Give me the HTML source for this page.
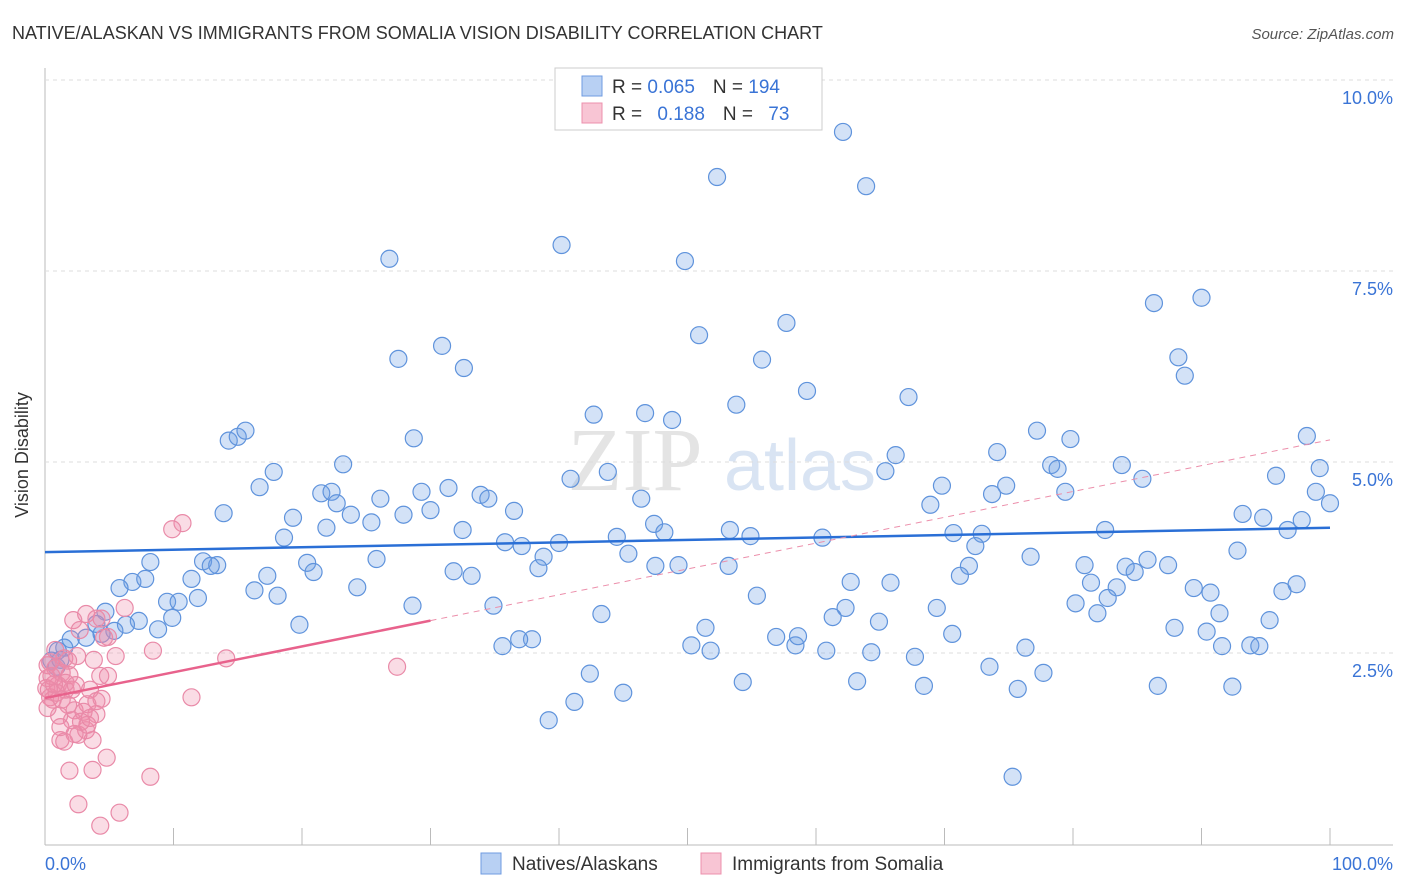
<!DOCTYPE html>
<html><head><meta charset="utf-8"><style>
body{margin:0;background:#fff;font-family:"Liberation Sans",sans-serif;}
svg{display:block}
</style></head><body>
<svg id="chart" width="1406" height="892">
<text x="12" y="39" font-size="18" fill="#333">NATIVE/ALASKAN VS IMMIGRANTS FROM SOMALIA VISION DISABILITY CORRELATION CHART</text>
<text x="1394" y="39" font-size="15" fill="#555" font-style="italic" text-anchor="end">Source: ZipAtlas.com</text>
<text x="28" y="455" font-size="18" fill="#333" text-anchor="middle" transform="rotate(-90 28 455)">Vision Disability</text>
<text x="635" y="490" font-size="90" fill="#e4e4e4" font-family="Liberation Serif,serif" text-anchor="middle">ZIP</text>
<text x="800" y="490" font-size="72" fill="#d9e4f3" text-anchor="middle">atlas</text>
<g id="grid"></g>
<g id="pts"></g>
<g id="trend"></g>
<rect x="555" y="68" width="267" height="62" fill="#fff" stroke="#ccc"/>
<rect x="582" y="76" width="20" height="20" fill="#b8d0f3" stroke="#6f9be0"/>
<rect x="582" y="103" width="20" height="20" fill="#f8c5d4" stroke="#ec90ad"/>
<text x="612" y="93" font-size="19" fill="#333">R = <tspan fill="#3a74d6">0.065</tspan><tspan dx="18">N = </tspan><tspan fill="#3a74d6">194</tspan></text>
<text x="612" y="120" font-size="19" fill="#333">R = <tspan fill="#3a74d6" dx="10">0.188</tspan><tspan dx="18">N = </tspan><tspan fill="#3a74d6" dx="10">73</tspan></text>
<rect x="481" y="853" width="20" height="21" fill="#b8d0f3" stroke="#6f9be0"/>
<text x="512" y="870" font-size="19" fill="#333">Natives/Alaskans</text>
<rect x="701" y="853" width="20" height="21" fill="#f8c5d4" stroke="#ec90ad"/>
<text x="732" y="870" font-size="19" fill="#333">Immigrants from Somalia</text>
</svg>
<script>
const yTicks=[2.5,5.0,7.5,10.0];
const yTickLabels=["2.5%","5.0%","7.5%","10.0%"];
const xTicks=[0,10,20,30,40,50,60,70,80,90,100];
const xEndLabels=["0.0%","100.0%"];
const blueX=[62.1,52.3,63.9,40.2,26.8,49.8,90.0,86.3,57.7,50.9,27.5,55.8,30.9,32.6,88.2,88.7,59.3,67.2,53.8,42.7,46.7,48.8,14.3,15.0,15.6,28.7,77.2,79.8,98.2,66.2,74.1,23.2,43.8,17.8,78.3,78.8,83.8,85.4,95.8,99.2,65.4,40.9,16.7,69.8,74.8,73.7,79.4,98.9,100.0,21.5,22.3,31.4,29.3,33.9,34.5,26.1,13.9,19.3,22.7,23.8,25.4,27.9,30.0,46.4,36.5,68.9,93.2,94.8,97.8,96.7,18.6,21.9,32.5,47.4,48.2,53.3,54.9,60.5,70.7,72.9,82.5,44.5,35.8,37.1,40.0,38.8,38.4,45.4,92.8,8.2,12.3,13.4,20.4,25.8,31.8,33.2,47.5,49.3,53.2,72.4,71.9,76.7,80.9,84.1,84.8,85.8,87.4,6.8,7.8,11.4,12.9,17.3,20.9,24.3,5.8,16.3,18.1,9.5,10.4,11.9,62.7,65.8,81.4,83.4,89.4,90.7,96.3,97.4,71.2,4.7,7.3,9.9,8.8,6.3,28.6,34.9,43.3,55.4,62.3,61.3,69.4,80.2,82.7,81.9,91.4,95.3,64.9,51.4,19.8,5.4,87.9,90.4,4.4,4.0,3.2,2.0,1.5,1.0,0.5,0.9,1.2,35.6,37.9,36.9,50.3,51.8,56.9,58.4,58.6,60.8,64.3,70.6,76.3,91.6,93.8,94.5,67.7,42.4,54.3,63.2,68.4,73.5,75.7,77.7,86.6,92.4,41.2,45.0,39.2,75.3];
const blueY=[9.32,8.73,8.61,7.84,7.66,7.63,7.15,7.08,6.82,6.66,6.35,6.34,6.52,6.23,6.37,6.13,5.93,5.85,5.75,5.62,5.64,5.55,5.28,5.33,5.41,5.31,5.41,5.30,5.34,5.09,5.13,4.97,4.87,4.87,4.96,4.91,4.96,4.78,4.82,4.92,4.88,4.78,4.67,4.69,4.69,4.58,4.61,4.61,4.46,4.59,4.61,4.66,4.61,4.57,4.52,4.52,4.33,4.27,4.46,4.31,4.21,4.31,4.37,4.52,4.36,4.44,4.32,4.27,4.24,4.11,4.01,4.14,4.11,4.19,4.08,4.11,4.03,4.01,4.07,4.06,4.11,4.02,3.95,3.90,3.94,3.76,3.61,3.80,3.84,3.69,3.70,3.65,3.68,3.73,3.57,3.51,3.64,3.65,3.64,3.90,3.64,3.76,3.65,3.63,3.56,3.72,3.65,3.43,3.47,3.47,3.64,3.51,3.56,3.36,3.35,3.32,3.25,3.17,3.17,3.22,3.43,3.42,3.42,3.36,3.35,3.29,3.31,3.40,3.51,3.04,2.92,2.96,2.81,2.87,3.12,3.12,3.01,3.25,3.09,2.97,3.09,3.15,3.22,3.02,3.02,2.93,2.91,2.83,2.87,2.79,2.83,2.78,2.75,2.88,2.70,2.68,2.57,2.53,2.40,2.32,2.41,2.59,2.68,2.68,2.60,2.53,2.71,2.60,2.72,2.53,2.51,2.75,2.57,2.59,2.60,2.59,2.45,2.23,2.12,2.13,2.07,2.32,2.03,2.24,2.07,2.06,1.86,1.98,1.62,0.88];
const pinkX=[10.7,9.9,6.2,3.2,4.0,4.4,2.2,2.7,4.9,8.4,14.1,5.5,2.5,1.8,3.8,27.4,0.4,0.8,1.3,0.2,0.1,1.0,1.6,3.5,4.3,4.9,11.4,0.4,1.3,2.3,1.8,3.3,4.0,2.1,1.2,3.2,3.7,2.6,1.5,2.3,4.8,3.7,1.9,8.2,2.6,5.8,4.3,0.6,0.9,0.3,4.4,3.0,4.6,1.5,0.8,0.2,0.5,1.9,1.1,4.0,2.1,0.2,2.8,1.2,3.3,1.6,0.7,2.4,3.5];
const pinkY=[4.20,4.12,3.09,3.01,2.95,2.95,2.93,2.80,2.71,2.53,2.43,2.46,2.46,2.40,2.41,2.32,2.38,2.30,2.24,2.17,2.04,2.08,2.02,2.02,2.20,2.20,1.92,1.92,1.89,1.75,1.82,1.83,1.70,1.62,1.36,1.49,1.36,1.43,1.34,1.44,1.13,0.97,0.96,0.88,0.52,0.41,0.24,1.89,1.98,2.02,1.90,1.73,2.70,2.43,2.54,2.34,2.20,2.21,1.68,1.87,2.02,1.78,1.60,1.53,1.56,2.11,2.09,2.08,1.65];
const blueTrend=[3.82,4.14];
const pinkTrend=[1.91,5.29];
const pinkSolidEnd=30;

const X0=45,X1=1330,Y0=844,PXY=76.4;
function sx(v){return X0+(X1-X0)*v/100;}
function sy(v){return Y0-v*PXY;}
const NS="http://www.w3.org/2000/svg";
function mk(tag,attrs,parent){const e=document.createElementNS(NS,tag);for(const k in attrs)e.setAttribute(k,attrs[k]);parent.appendChild(e);return e;}
const grid=document.getElementById('grid'),pts=document.getElementById('pts'),tr=document.getElementById('trend');
let ax=mk('line',{x1:45,y1:68,x2:45,y2:845,stroke:'#bbb'},grid);


let bx=mk('line',{x1:45,y1:845,x2:1393,y2:845,stroke:'#bbb'},grid);


yTicks.forEach((t,i)=>{
  const g=mk('line',{x1:45,x2:1393,y1:sy(t),y2:sy(t),stroke:'#ddd','stroke-dasharray':'4,4'},grid);
  
  
  const l=mk('text',{x:1393,y:sy(t)+24,'font-size':18,fill:'#3a74d6','text-anchor':'end'},grid);
  l.textContent=yTickLabels[i];
  
  
});
xTicks.forEach(t=>{
  const k=mk('line',{x1:sx(t),x2:sx(t),y1:828,y2:845,stroke:'#bbb'},grid);
  
  
});
[[0,'start',45],[1,'end',1393]].forEach(([i,a,x])=>{
  const l=mk('text',{x:x,y:870,'font-size':18,fill:'#3a74d6','text-anchor':a},grid);
  l.textContent=xEndLabels[i];
  
  
});
blueX.forEach((v,i)=>{
  const c=mk('circle',{cx:sx(v),cy:sy(blueY[i]),r:8.5,fill:'rgba(110,160,230,0.3)',stroke:'#5f93dc','stroke-width':1.2},pts);
  
  
});
pinkX.forEach((v,i)=>{
  const c=mk('circle',{cx:sx(v),cy:sy(pinkY[i]),r:8.5,fill:'rgba(240,140,170,0.3)',stroke:'#e98aa8','stroke-width':1.2},pts);
  
  
});
const bl=mk('line',{x1:sx(0),y1:sy(blueTrend[0]),x2:sx(100),y2:sy(blueTrend[1]),stroke:'#2a6fd6','stroke-width':2.5},tr);


const pAt=x=>pinkTrend[0]+(pinkTrend[1]-pinkTrend[0])*x/100;
const pd=mk('line',{x1:sx(pinkSolidEnd),y1:sy(pAt(pinkSolidEnd)),x2:sx(100),y2:sy(pAt(100)),stroke:'#ec8fab','stroke-width':1,'stroke-dasharray':'6,5'},tr);


const ps=mk('line',{x1:sx(0),y1:sy(pAt(0)),x2:sx(pinkSolidEnd),y2:sy(pAt(pinkSolidEnd)),stroke:'#e8628c','stroke-width':2.5},tr);


</script>
</body></html>
